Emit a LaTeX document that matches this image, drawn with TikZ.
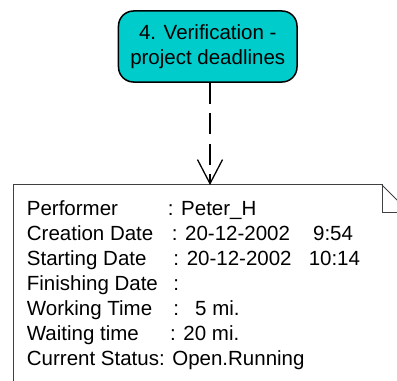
\documentclass[tikz,border=0pt]{standalone}
\usepackage{fontspec}
\setmainfont{Liberation Sans}
\usetikzlibrary{arrows.meta}
\definecolor{taskcyan}{HTML}{00CCCC}
\newcommand\fieldbox[2]{\makebox[#1][l]{#2}}

\begin{document}
\begin{tikzpicture}[x=1bp, y=1bp, >={Straight Barb[length=24bp,width=25bp,line width=1.3bp]},
    task/.style={ draw, line width=1.5bp, fill=taskcyan, rounded corners=15bp,
    minimum width=178.5bp, minimum height=71bp, align=center, inner sep=0pt,
    font=\fontsize{20.5bp}{25bp}\selectfont }, dependency/.style={ ->,
    line width=2.2bp, dash pattern=on 21bp off 9.5bp }, field/.style={
    anchor=base west, inner sep=0pt, font=\fontsize{20.5bp}{25bp}\selectfont },
    note/.style={ line width=1bp, draw=black!75 } ]
  \useasboundingbox (0,0) rectangle (397,381);
  \clip (0,0) rectangle (397,381);
  \node[task] (verif) at (207.75,334.5) {4. Verification -\\project deadlines};
  % note sheet with folded corner
  \draw[note] (13,-5) -- (13,196) -- (382,196) -- (382,168) -- (410,168);
  \draw[note] (382,196) -- (410,168);
  \coordinate (tip) at (210,196);
  \draw[dependency] (verif.south -| tip) -- (tip);
  \foreach \i/\t in {1/{\fieldbox{141bp}{Performer}: Peter\_H},
      2/{\fieldbox{145bp}{Creation Date}: \fieldbox{128bp}{20-12-2002}9:54},
      3/{\fieldbox{146.6bp}{Starting Date}: \fieldbox{122bp}{20-12-2002}10:14},
      4/{\fieldbox{146.6bp}{Finishing Date}:},
      5/{\fieldbox{146.6bp}{Working Time}:\hspace{16bp}5 mi.},
      6/{\fieldbox{143.3bp}{Waiting time}: 20 mi.},
      7/{Current Status: Open.Running}}
  \node[field] (line\i) at (26.7,{190.5-25*\i}) {\t};
\end{tikzpicture}
\end{document}
